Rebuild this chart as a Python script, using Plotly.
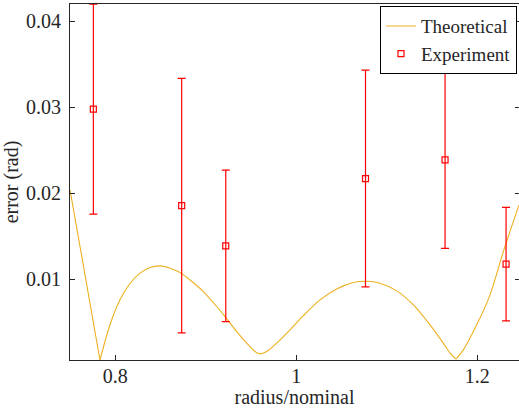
import plotly.graph_objects as go

# Theoretical curve
theo_x = [0.7500, 0.7666, 0.7831, 0.7942, 0.8052, 0.8163, 0.8273, 0.8384, 0.8494,
          0.8605, 0.8715, 0.8826, 0.8973, 0.9121, 0.9213, 0.9342, 0.9452, 0.9544,
          0.9599, 0.9673, 0.9784, 0.9931, 1.0078, 1.0262, 1.0447, 1.0631, 1.0778,
          1.0925, 1.1110, 1.1294, 1.1478, 1.1625, 1.1699, 1.1765, 1.1846, 1.1994,
          1.2141, 1.2288, 1.2461]
theo_y = [0.0204, 0.0105, 0.0006, 0.0047, 0.0076, 0.0095, 0.0107, 0.01135, 0.01155,
          0.01128, 0.01077, 0.0099, 0.00856, 0.00682, 0.00565, 0.00391, 0.00256, 0.00158,
          0.00131, 0.00158, 0.00256, 0.0041, 0.00575, 0.00759, 0.00887, 0.00961, 0.00976,
          0.00953, 0.00864, 0.00701, 0.00469, 0.00256, 0.0014, 0.0007, 0.00178, 0.00469,
          0.00818, 0.01321, 0.01864]
# indices of the sharp zero-crossings (V-shaped vertices)
theo_vertices = [2, 33]

# Experiment
exp_x = [0.7758, 0.8734, 0.9221, 1.0765, 1.1644, 1.2318]
exp_y = [0.02977, 0.01856, 0.01387, 0.02170, 0.02387, 0.01174]
exp_err = [0.0122, 0.0148, 0.0088, 0.0126, 0.0103, 0.0066]

x_ticks = [0.8, 1.0, 1.2]
x_ticklabels = ["0.8", "1", "1.2"]
y_ticks = [0.01, 0.02, 0.03, 0.04]
y_ticklabels = ["0.01", "0.02", "0.03", "0.04"]

FONT = "Liberation Serif, Times New Roman, serif"
AX = "#262626"
ORANGE = "#EDB120"
TICKFONT = dict(family=FONT, size=20, color=AX)

fig = go.Figure()
bounds = [0] + theo_vertices + [len(theo_x) - 1]
for k in range(len(bounds) - 1):
    a, b = bounds[k], bounds[k + 1]
    fig.add_trace(go.Scatter(
        x=theo_x[a:b + 1], y=theo_y[a:b + 1], mode="lines", name="Theoretical",
        legendgroup="theo", showlegend=(k == 0),
        line=dict(color=ORANGE, width=1.1, shape="spline", smoothing=0.8),
    ))
fig.add_trace(go.Scatter(
    x=exp_x, y=exp_y, mode="markers", name="Experiment",
    marker=dict(symbol="square-open", size=6, color="#FF0000", line=dict(width=1.2)),
    error_y=dict(type="data", array=exp_err, color="#FF0000", thickness=1.2, width=4),
))
# invisible helper for right-side ticks
fig.add_trace(go.Scatter(x=[1.0], y=[0.02], yaxis="y2", mode="markers",
                         marker=dict(opacity=0), showlegend=False, hoverinfo="skip"))

fig.update_layout(
    width=519, height=408,
    margin=dict(l=70, r=0, t=4, b=48, autoexpand=False),
    paper_bgcolor="white", plot_bgcolor="white",
    font=dict(family=FONT, size=20, color=AX),
    showlegend=True,
    legend=dict(
        x=0.9955, y=0.994, xanchor="right", yanchor="top",
        bgcolor="white", bordercolor="#000000", borderwidth=1,
        font=dict(family=FONT, size=19, color=AX),
        tracegroupgap=0, itemwidth=30,
    ),
    xaxis=dict(
        range=[0.75, 1.2461], tickvals=x_ticks, ticktext=x_ticklabels,
        showline=True, linecolor=AX, linewidth=1, mirror=True,
        ticks="inside", ticklen=5, tickcolor=AX, showgrid=False, zeroline=False,
        tickfont=TICKFONT,
        title=dict(text="radius/nominal", standoff=4, font=dict(family=FONT, size=20, color=AX)),
        ticklabelstandoff=-2, automargin=False,
    ),
    yaxis=dict(
        range=[0.0006, 0.042], tickvals=y_ticks, ticktext=y_ticklabels,
        showline=True, linecolor=AX, linewidth=1, mirror=False,
        ticks="inside", ticklen=5, tickcolor=AX, showgrid=False, zeroline=False,
        tickfont=TICKFONT,
        title=dict(text="error (rad)", standoff=6, font=dict(family=FONT, size=20, color=AX)),
        ticklabelstandoff=4, automargin=False,
    ),
    yaxis2=dict(
        overlaying="y", side="right", matches="y", tickvals=y_ticks,
        showticklabels=False, ticks="inside", ticklen=4, tickcolor=AX,
        showline=False, showgrid=False, zeroline=False, automargin=False,
    ),
)

fig.write_html("out.html", config={"displayModeBar": False},
               post_script="document.body.style.margin='0';")
